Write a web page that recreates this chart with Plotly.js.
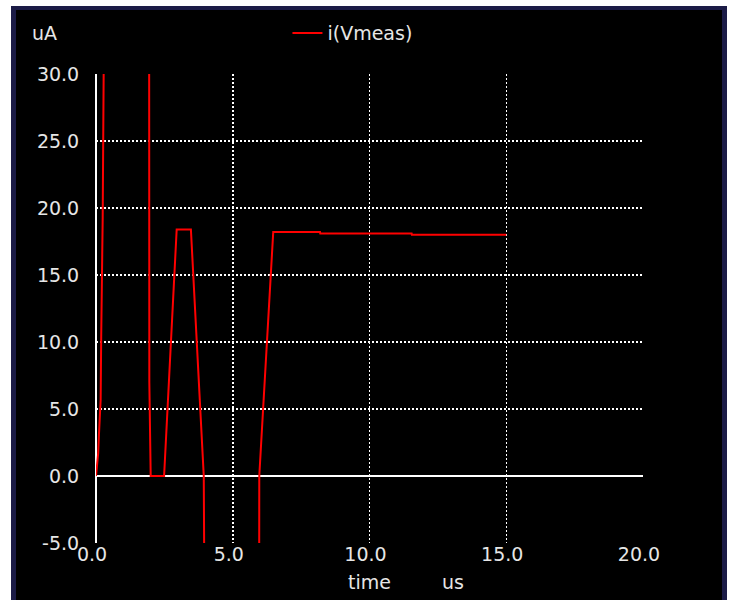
<!DOCTYPE html>
<html>
<head>
<meta charset="utf-8">
<script src="https://cdn.plot.ly/plotly-3.0.1.min.js"></script>
<style>
  html, body { margin: 0; padding: 0; background: #ffffff; width: 731px; height: 600px; overflow: hidden; }
  #frame { position: absolute; left: 11px; top: 6px; width: 706px; height: 594px;
           border-left: 5px solid #1b1b46; border-top: 4px solid #1b1b46; border-right: 5px solid #1b1b46;
           background: #000; }
  #plot { width: 706px; height: 590px; }
</style>
</head>
<body>
<div id="frame"><div id="plot"></div></div>
<script>
// i(Vmeas) in uA versus time in us
const time = [0, 0.08, 0.11, 0.17, 0.19, 0.245, 0.28, 0.35, 1.90, 1.94, 1.95, 2.00, 2.49, 2.95, 3.47, 3.94, 4.05, 5.95, 5.97, 6.48, 8.19, 8.20, 11.54, 11.55, 15.0];
const current = [0, 1.7, 3.2, 5.7, 10.4, 19.3, 30, 45, 45, 45, 7, 0, 0, 18.4, 18.4, 0, -40, -40, 0, 18.2, 18.2, 18.1, 18.1, 18.0, 18.0];

const xTickVals = [0, 5, 10, 15, 20];
const xTickText = ["0.0", "5.0", "10.0", "15.0", "20.0"];
const yTickVals = [-5, 0, 5, 10, 15, 20, 25, 30];
const yTickText = ["-5.0", "0.0", "5.0", "10.0", "15.0", "20.0", "25.0", "30.0"];

const fontFam = "DejaVu Sans, sans-serif";
const txtColor = "#e6e6e6";
const fs = 19;

const trace = {
  x: time, y: current, type: "scatter", mode: "lines", name: "i(Vmeas)",
  line: { color: "#ff0000", width: 2 }
};

const layout = {
  width: 706, height: 590,
  paper_bgcolor: "#000000", plot_bgcolor: "#000000",
  margin: { l: 80, r: 79, t: 64, b: 57, autoexpand: false },
  font: { family: fontFam, size: fs, color: txtColor },
  showlegend: true,
  legend: { x: 0.35, y: 1.087, xanchor: "left", yanchor: "middle", orientation: "h",
            bgcolor: "rgba(0,0,0,0)", font: { family: fontFam, size: fs, color: txtColor } },
  xaxis: {
    range: [0, 20], tickvals: xTickVals, ticktext: xTickText,
    showgrid: true, gridcolor: "#ffffff", griddash: "2px,2px", gridwidth: 1.5,
    zeroline: true, zerolinecolor: "#ffffff", zerolinewidth: 2,
    showline: false, ticks: "", ticklabelstandoff: -2, ticklabelshift: -4,
    tickfont: { family: fontFam, size: fs, color: txtColor },
    fixedrange: true
  },
  yaxis: {
    range: [-5, 30], tickvals: yTickVals, ticktext: yTickText,
    showgrid: true, gridcolor: "#ffffff", griddash: "2px,2px", gridwidth: 1.5,
    zeroline: true, zerolinecolor: "#ffffff", zerolinewidth: 2,
    showline: false, ticks: "outside", ticklen: 12, tickcolor: "rgba(0,0,0,0)",
    tickfont: { family: fontFam, size: fs, color: txtColor },
    fixedrange: true
  },
  annotations: [
    { text: "uA", xref: "paper", yref: "paper", x: -0.12, y: 1.087, xanchor: "left", yanchor: "middle",
      showarrow: false, font: { family: fontFam, size: fs, color: txtColor } },
    { text: "time", xref: "paper", yref: "paper", x: 0.5, y: -0.055, xanchor: "center", yanchor: "top",
      showarrow: false, font: { family: fontFam, size: fs, color: txtColor } },
    { text: "us", xref: "paper", yref: "paper", x: 0.652, y: -0.055, xanchor: "center", yanchor: "top",
      showarrow: false, font: { family: fontFam, size: fs, color: txtColor } }
  ]
};

Plotly.newPlot("plot", [trace], layout, { staticPlot: true, displayModeBar: false });
</script>
</body>
</html>
